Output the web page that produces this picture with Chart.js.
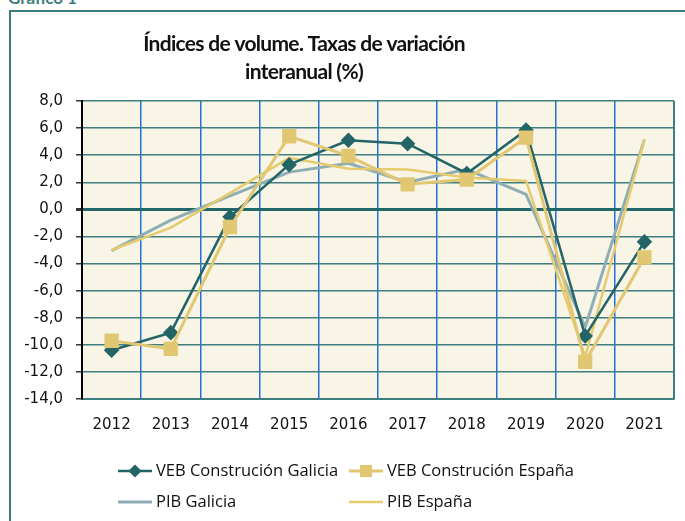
<!DOCTYPE html>
<html>
<head>
<meta charset="utf-8">
<script src="https://cdn.jsdelivr.net/npm/chart.js@4"></script>
<style>
html,body{margin:0;padding:0;background:#fff;overflow:hidden}
#wrap{position:relative;width:685px;height:521px;overflow:hidden}
#caption{position:absolute;left:8px;top:-13px;font:bold 17px Lato,sans-serif;color:#3b7d7e}
#frame{position:absolute;left:9px;top:10px;width:720px;height:620px;border:2px solid #3d7b7b;box-sizing:border-box}
canvas{position:absolute;left:0;top:0}
</style>
</head>
<body>
<div id="wrap">
  <div id="caption">Gráfico 1</div>
  <div id="frame"></div>
  <canvas id="chart" width="685" height="521"></canvas>
</div>
<script>
'use strict';
const years = ['2012','2013','2014','2015','2016','2017','2018','2019','2020','2021'];
const vebGalicia = [-10.4,-9.1,-0.55,3.3,5.1,4.85,2.65,5.85,-9.35,-2.4];
const vebEspana = [-9.7,-10.3,-1.3,5.4,3.95,1.85,2.2,5.3,-11.25,-3.55];
const pibGalicia = [-3.05,-0.8,1.0,2.75,3.4,2.0,2.95,1.1,-8.7,5.15];
const pibEspana = [-3.0,-1.35,1.2,3.8,3.0,2.95,2.35,2.1,-10.9,5.15];
const titleLines = ['Índices de volume. Taxas de variación','interanual (%)'];

const tickFont = {family:'DejaVu Sans', size:15};

// title + legend drawn on the canvas so they can sit where the original has them
const extras = {
  id:'extras',
  beforeDraw(chart){
    const {ctx, chartArea:a} = chart;
    ctx.save();
    ctx.fillStyle = '#f8f4e6';
    ctx.fillRect(a.left, a.top, a.width, a.height);
    ctx.restore();
  },
  beforeDatasetsDraw(chart){
    const {ctx, chartArea:a} = chart;
    ctx.save();
    ctx.strokeStyle = '#3f7e80';
    ctx.lineWidth = 2;
    ctx.beginPath();
    ctx.moveTo(a.right, a.top);
    ctx.lineTo(a.right, a.bottom);
    ctx.stroke();
    ctx.restore();
  },
  afterDraw(chart){
    const ctx = chart.ctx;
    ctx.save();
    ctx.fillStyle = '#111';
    ctx.font = 'bold 21px Lato';
    ctx.letterSpacing = '-0.7px';
    ctx.textAlign = 'center';
    ctx.textBaseline = 'middle';
    ctx.fillText(titleLines[0], 304, 44);
    ctx.fillText(titleLines[1], 304, 72);
    ctx.letterSpacing = '0px';

    const cols = [118, 349], rows = [471, 502];
    chart.data.datasets.forEach((ds, i) => {
      const x = cols[i % 2], y = rows[Math.floor(i / 2)];
      ctx.strokeStyle = ds.borderColor;
      ctx.lineWidth = ds.borderWidth;
      ctx.beginPath();
      ctx.moveTo(x, y);
      ctx.lineTo(x + 34, y);
      ctx.stroke();
      if (ds.pointRadius > 0) {
        ctx.fillStyle = ds.pointBackgroundColor;
        ctx.strokeStyle = ds.pointBackgroundColor;
        Chart.helpers.drawPoint(ctx, {pointStyle: ds.pointStyle, radius: ds.pointRadius * 0.8, rotation: 0, borderWidth: 1}, x + 17, y);
      }
      ctx.fillStyle = '#111';
      ctx.font = '16.5px "Open Sans"';
      ctx.textAlign = 'left';
      ctx.fillText(ds.label, x + 38, y);
    });
    ctx.restore();
  }
};

new Chart(document.getElementById('chart').getContext('2d'), {
  type:'line',
  data:{
    labels: years,
    datasets:[
      {label:'VEB Construción Galicia', data:vebGalicia, borderColor:'#236467', pointBackgroundColor:'#236467', pointBorderColor:'#236467',
       borderWidth:2.5, pointStyle:'rectRot', pointRadius:6, order:1},
      {label:'VEB Construción España', data:vebEspana, borderColor:'#e1c772', pointBackgroundColor:'#e1c772', pointBorderColor:'#e1c772',
       borderWidth:3, pointStyle:'rect', pointRadius:8, order:0},
      {label:'PIB Galicia', data:pibGalicia, borderColor:'#8eaeb3', borderWidth:3, pointRadius:0, order:3},
      {label:'PIB España', data:pibEspana, borderColor:'#e5cb6e', borderWidth:2.5, pointRadius:0, order:2}
    ]
  },
  options:{
    responsive:false,
    animation:false,
    events:[],
    elements:{line:{tension:0}},
    layout:{padding:{left:0, top:101, right:8, bottom:82}},
    plugins:{legend:{display:false}, title:{display:false}, tooltip:{enabled:false}},
    scales:{
      x:{
        offset:true,
        afterFit(s){ s.height = 40; },
        grid:{offset:true, color:'#2470d8', lineWidth:1.5, drawTicks:false},
        border:{color:'#3f7e80', width:2},
        ticks:{font:tickFont, color:'#111', padding:17, maxRotation:0}
      },
      y:{
        min:-14, max:8,
        afterFit(s){ s.width = 82; },
        grid:{
          color: c => c.tick && c.tick.value === 0 ? '#22676a' : '#3f7e80',
          lineWidth: c => c.tick && c.tick.value === 0 ? 3 : 1.5,
          tickColor:'#333', tickLength:6
        },
        border:{color:'#000', width:2},
        ticks:{stepSize:2, font:tickFont, color:'#111', padding:13,
          callback: v => v.toFixed(1).replace('.', ',')}
      }
    }
  },
  plugins:[extras]
});
</script>
</body>
</html>
